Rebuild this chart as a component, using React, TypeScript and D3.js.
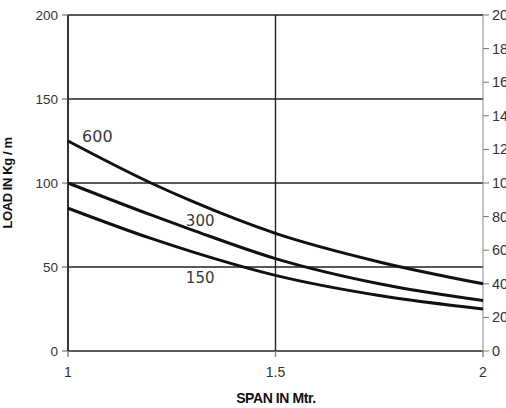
import React from "react";
import * as d3 from "d3";

const spans = [1, 1.2, 1.3, 1.5, 1.75, 2];
const load600 = [125, 100, 89, 70, 53, 40];
const load300 = [100, 81, 72, 55, 40, 30];
const load150 = [85, 67, 59, 45, 33, 25];
const seriesNames = ["600", "300", "150"];
const leftTicks = [0, 50, 100, 150, 200];
const rightTicks = [0, 20, 40, 60, 80, 100, 120, 140, 160, 180, 200];
const xTicks = [1, 1.5, 2];
const xTickLabels = ["1", "1.5", "2"];

export default function App() {
  const W = 506, H = 408;
  const x = d3.scaleLinear().domain([1, 2]).range([68, 483]);
  const y = d3.scaleLinear().domain([0, 200]).range([351, 15]);
  const line = d3
    .line<[number, number]>()
    .x((d) => x(d[0]))
    .y((d) => y(d[1]))
    .curve(d3.curveMonotoneX);
  const all = [load600, load300, load150];
  const labelPos: [number, number, number][] = [
    [1.034, 124.5, 16],
    [1.284, 74.5, 15],
    [1.284, 40.5, 15],
  ];
  return (
    <svg
      width={W}
      height={H}
      style={{ position: "absolute", left: 0, top: 0, display: "block", background: "#fff" }}
      fontFamily="Liberation Sans, Arial, sans-serif"
    >
      {leftTicks.map((t) => (
        <line key={"g" + t} x1={x(1)} x2={x(2)} y1={y(t)} y2={y(t)} stroke="#222" strokeWidth={1.4} />
      ))}
      <line x1={x(1.5)} x2={x(1.5)} y1={y(200)} y2={y(0)} stroke="#222" strokeWidth={1.4} />
      <line x1={x(1)} x2={x(1)} y1={y(200)} y2={y(0)} stroke="#333" strokeWidth={2} />
      {leftTicks.map((t) => (
        <g key={"l" + t}>
          <line x1={x(1) - 6} x2={x(1)} y1={y(t)} y2={y(t)} stroke="#555" strokeWidth={1} />
          <text x={x(1) - 10} y={y(t) + 5} textAnchor="end" fontSize={13.5} fill="#333">
            {t}
          </text>
        </g>
      ))}
      <line x1={x(2)} x2={x(2)} y1={y(200)} y2={y(0)} stroke="#888" strokeWidth={1} />
      {rightTicks.map((t) => (
        <g key={"r" + t}>
          <line x1={x(2)} x2={x(2) + 6} y1={y(t)} y2={y(t)} stroke="#777" strokeWidth={1} />
          <text x={x(2) + 9} y={y(t) + 5} textAnchor="start" fontSize={14.5} fill="#333">
            {t}
          </text>
        </g>
      ))}
      {xTicks.map((t, i) => (
        <g key={"x" + t}>
          <line x1={x(t)} x2={x(t)} y1={y(0)} y2={y(0) + 6} stroke="#888" strokeWidth={1.5} />
          <text x={x(t)} y={y(0) + 26} textAnchor="middle" fontSize={14} fill="#333">
            {xTickLabels[i]}
          </text>
        </g>
      ))}
      {all.map((vals, i) => (
        <path
          key={"c" + i}
          d={line(spans.map((s, j) => [s, vals[j]] as [number, number])) || ""}
          fill="none"
          stroke="#111"
          strokeWidth={3}
        />
      ))}
      {seriesNames.map((n, i) => (
        <text
          key={"n" + n}
          x={x(labelPos[i][0])}
          y={y(labelPos[i][1])}
          fontFamily="DejaVu Sans, Verdana, sans-serif"
          fontSize={labelPos[i][2]}
          fill="#3a3a3a"
        >
          {n}
        </text>
      ))}
      <text
        transform={`translate(12,${y(100)}) rotate(-90)`}
        textAnchor="middle"
        fontSize={13}
        fontWeight="bold"
        letterSpacing={-0.4}
        fill="#111"
      >
        LOAD IN Kg / m
      </text>
      <text x={276} y={403} textAnchor="middle" fontSize={14} fontWeight="bold" letterSpacing={-0.4} fill="#111">
        SPAN IN Mtr.
      </text>
    </svg>
  );
}
